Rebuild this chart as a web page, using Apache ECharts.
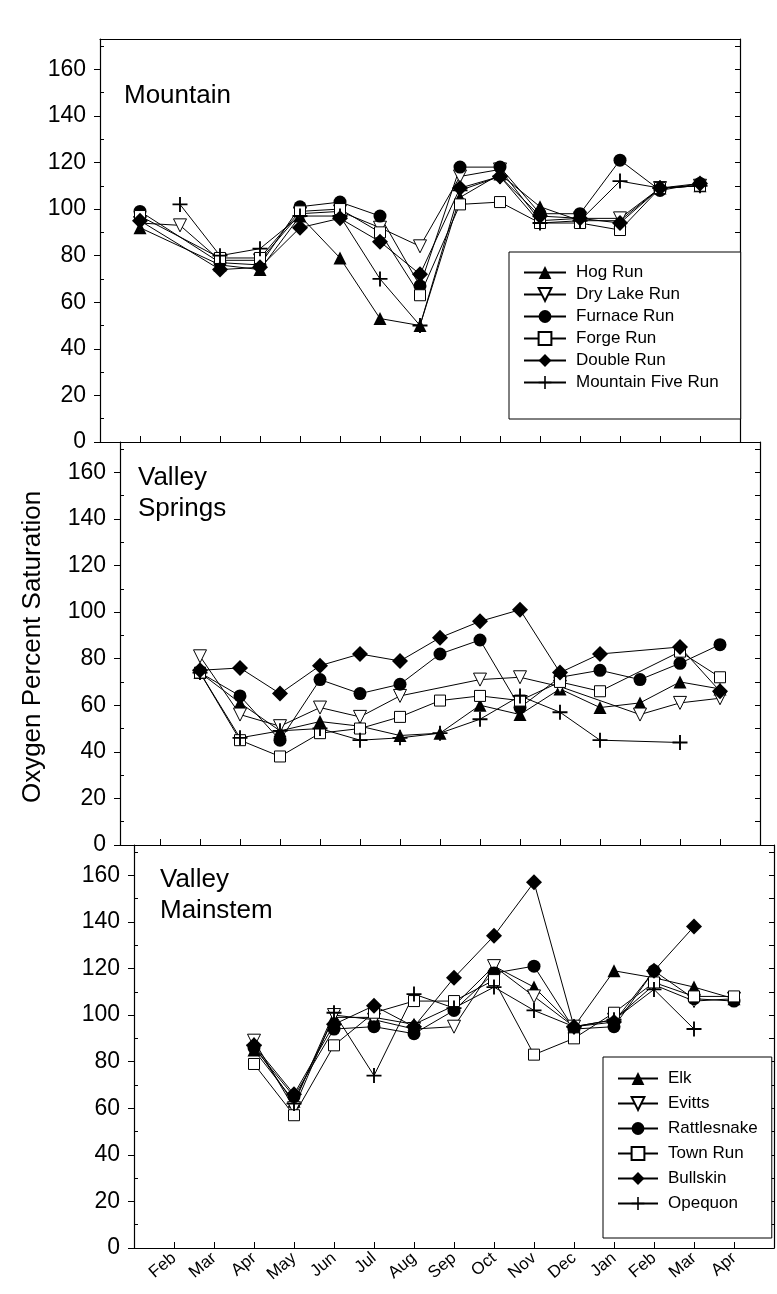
<!DOCTYPE html>
<html>
<head>
<meta charset="utf-8">
<script src="https://cdn.jsdelivr.net/npm/echarts@6/dist/echarts.min.js"></script>
<style>
html,body{margin:0;padding:0;background:#fff;}
#chart{width:777px;height:1294px;}
</style>
</head>
<body>
<div id="chart"></div>
<script>
// ---------- data ----------
const months = ['Feb','Mar','Apr','May','Jun','Jul','Aug','Sep','Oct','Nov','Dec','Jan','Feb','Mar','Apr'];
const yTickValues = [0, 20, 40, 60, 80, 100, 120, 140, 160];
const panelTitles = ['Mountain', 'Valley\nSprings', 'Valley\nMainstem'];
const yAxisTitle = 'Oxygen Percent Saturation';

// Mountain panel
const mountainNames = ['Hog Run', 'Dry Lake Run', 'Furnace Run', 'Forge Run', 'Double Run', 'Mountain Five Run'];
const hogRun          = [92, null, 76, 74, 97, 79, 53, 50, 105, 115, 101, 95, 95, 109, 110];
const dryLakeRun      = [94, 93, 78, 78, 98, 99, 92, 84, 114, 117, 95, 96, 96, 109, 110];
const furnaceRun      = [99, null, 77, 76, 101, 103, 97, 67, 118, 118, 98, 98, 121, 108, 111];
const forgeRun        = [97, null, 79, 79, 99, 100, 90, 63, 102, 103, 94, 94, 91, 109, 110];
const doubleRun       = [95, null, 74, 75, 92, 96, 86, 72, 109, 114, 97, 96, 94, 109, 111];
const mountainFiveRun = [null, 102, 80, 83, 97, 97, 70, 50, 108, 114, 94, 95, 112, 109, 110];

// Valley Springs panel (no legend in the figure)
const springsTriangle = [null, 74, 61, 49, 53, 51, 47, 48, 60, 56, 67, 59, 61, 70, 67];
const springsDownTri  = [null, 81, 56, 51, 59, 55, 64, null, 71, 72, 68, null, 56, 61, 63];
const springsCircle   = [null, 74, 64, 45, 71, 65, 69, 82, 88, 59, 72, 75, 71, 78, 86];
const springsSquare   = [null, 74, 45, 38, 48, 50, 55, 62, 64, 62, 70, 66, null, 83, 72];
const springsDiamond  = [null, 75, 76, 65, 77, 82, 79, 89, 96, 101, 74, 82, null, 85, 66];
const springsPlus     = [null, 74, 46, 49, 50, 45, 46, 48, 54, 64, 57, 45, null, 44, null];

// Valley Mainstem panel
const mainstemNames = ['Elk', 'Evitts', 'Rattlesnake', 'Town Run', 'Bullskin', 'Opequon'];
const elk         = [null, null, 85, 63, 99, 99, 96, 104, 121, 112, 95, 119, 116, 112, 107];
const evitts      = [null, null, 89, 60, 100, 98, 94, 95, 121, 108, 95, 98, 113, 106, 107];
const rattlesnake = [null, null, 86, 65, 94, 95, 92, 102, 118, 121, 94, 95, 119, 107, 106];
const townRun     = [null, null, 79, 57, 87, 101, 106, 106, 115, 83, 90, 101, 114, 108, 108];
const bullskin    = [null, null, 87, 66, 96, 104, 95, 116, 134, 157, 95, 97, 119, 138, null];
const opequon     = [null, null, 87, 62, 101, 74, 109, 103, 112, 102, 95, 98, 111, 94, null];

// ---------- styling ----------
const FONT = 'Liberation Sans, Arial, Helvetica, sans-serif';
const PLUS = 'path://M10.5,0 L13.5,0 L13.5,10.5 L24,10.5 L24,13.5 L13.5,13.5 L13.5,24 L10.5,24 L10.5,13.5 L0,13.5 L0,10.5 L10.5,10.5 Z';
const markerStyles = {
  tri:     { symbol: 'triangle', symbolSize: 13, symbolRotate: 0,   fill: '#000', hollow: false },
  down:    { symbol: 'triangle', symbolSize: 13, symbolRotate: 180, fill: '#fff', hollow: true },
  circle:  { symbol: 'circle',   symbolSize: 13, symbolRotate: 0,   fill: '#000', hollow: false },
  square:  { symbol: 'rect',     symbolSize: 11, symbolRotate: 0,   fill: '#fff', hollow: true },
  diamond: { symbol: 'diamond',  symbolSize: 16, symbolRotate: 0,   fill: '#000', hollow: false },
  plus:    { symbol: PLUS,       symbolSize: 15, symbolRotate: 0,   fill: '#000', hollow: false }
};

const panels = [
  { left: 100, top: 39,  width: 640, height: 403 },
  { left: 120, top: 442, width: 640, height: 403 },
  { left: 134, top: 845, width: 640, height: 403 }
];
const Y_MAX = 173;

function mkSeries(name, values, shape, g) {
  const m = markerStyles[shape];
  const pts = [];
  values.forEach((v, i) => { if (v !== null) pts.push([i + 1, v]); });
  return {
    type: 'line', name: name, data: pts,
    xAxisIndex: g * 2, yAxisIndex: g * 3,
    symbol: m.symbol, symbolSize: m.symbolSize, symbolRotate: m.symbolRotate,
    showAllSymbol: true, clip: false, silent: true,
    lineStyle: { color: '#000', width: 1 },
    itemStyle: m.hollow ? { color: m.fill, borderColor: '#000', borderWidth: 1, opacity: 1 }
                        : { color: '#000', borderWidth: 0, opacity: 1 },
    emphasis: { disabled: true },
    animation: false
  };
}

const grids = [], xAxes = [], yAxes = [];
const minorVals = [], allTens = [];
for (let v = 10; v <= 170; v += 20) minorVals.push(v);
for (let v = 0; v <= 170; v += 10) allTens.push(v);

panels.forEach((p, g) => {
  grids.push({ left: p.left, top: p.top, width: p.width, height: p.height, containLabel: false });
  const isBottom = g === panels.length - 1;
  xAxes.push({
    type: 'value', gridIndex: g, position: 'bottom', min: 0, max: 16, interval: 1,
    axisLine: { show: true, onZero: false, lineStyle: { color: '#000', width: 1.2 } },
    axisTick: { show: true, inside: true, length: 6, lineStyle: { color: '#000', width: 1 } },
    axisLabel: {
      show: isBottom, rotate: 40, margin: 8, fontSize: 17, color: '#000', fontFamily: FONT,
      formatter: (v) => (v >= 1 && v <= months.length) ? months[v - 1] : ''
    },
    splitLine: { show: false }
  });
  xAxes.push({
    type: 'value', gridIndex: g, position: 'top', min: 0, max: 16,
    axisLine: { show: true, onZero: false, lineStyle: { color: '#000', width: 1.2 } },
    axisTick: { show: false }, axisLabel: { show: false }, splitLine: { show: false }
  });
  yAxes.push({
    type: 'value', gridIndex: g, position: 'left', min: 0, max: Y_MAX,
    axisLine: { show: true, onZero: false, lineStyle: { color: '#000', width: 1.2 } },
    axisTick: { show: true, inside: false, length: 6, customValues: yTickValues, lineStyle: { color: '#000', width: 1 } },
    axisLabel: { show: true, customValues: yTickValues, margin: 14, fontSize: 23, color: '#000', fontFamily: FONT },
    splitLine: { show: false }
  });
  yAxes.push({
    type: 'value', gridIndex: g, position: 'left', min: 0, max: Y_MAX,
    axisLine: { show: false },
    axisTick: { show: true, inside: true, length: 4, customValues: minorVals, lineStyle: { color: '#000', width: 1 } },
    axisLabel: { show: false }, splitLine: { show: false }
  });
  yAxes.push({
    type: 'value', gridIndex: g, position: 'right', min: 0, max: Y_MAX,
    axisLine: { show: true, onZero: false, lineStyle: { color: '#000', width: 1.2 } },
    axisTick: { show: true, inside: true, length: 5, customValues: allTens, lineStyle: { color: '#000', width: 1 } },
    axisLabel: { show: false }, splitLine: { show: false }
  });
});

const series = [
  mkSeries('Hog Run', hogRun, 'tri', 0),
  mkSeries('Dry Lake Run', dryLakeRun, 'down', 0),
  mkSeries('Furnace Run', furnaceRun, 'circle', 0),
  mkSeries('Forge Run', forgeRun, 'square', 0),
  mkSeries('Double Run', doubleRun, 'diamond', 0),
  mkSeries('Mountain Five Run', mountainFiveRun, 'plus', 0),

  mkSeries('Valley Springs A', springsTriangle, 'tri', 1),
  mkSeries('Valley Springs B', springsDownTri, 'down', 1),
  mkSeries('Valley Springs C', springsCircle, 'circle', 1),
  mkSeries('Valley Springs D', springsSquare, 'square', 1),
  mkSeries('Valley Springs E', springsDiamond, 'diamond', 1),
  mkSeries('Valley Springs F', springsPlus, 'plus', 1),

  mkSeries('Elk', elk, 'tri', 2),
  mkSeries('Evitts', evitts, 'down', 2),
  mkSeries('Rattlesnake', rattlesnake, 'circle', 2),
  mkSeries('Town Run', townRun, 'square', 2),
  mkSeries('Bullskin', bullskin, 'diamond', 2),
  mkSeries('Opequon', opequon, 'plus', 2)
];

const legendCommon = {
  orient: 'vertical', backgroundColor: '#fff', borderColor: '#000', borderWidth: 1, borderRadius: 0,
  itemHeight: 16, selectedMode: false,
  textStyle: { fontSize: 17, lineHeight: 16, color: '#000', fontFamily: FONT, padding: [0, 0, 0, 5] }
};

const option = {
  animation: false,
  backgroundColor: '#fff',
  grid: grids, xAxis: xAxes, yAxis: yAxes, series: series,
  legend: [
    Object.assign({}, legendCommon, {
      data: mountainNames, left: 509, top: 252, itemWidth: 42, itemGap: 5,
      padding: [12, 22, 28, 14]
    }),
    Object.assign({}, legendCommon, {
      data: mainstemNames, left: 603, top: 1057, itemWidth: 40, itemGap: 8,
      padding: [13, 14, 26, 14]
    })
  ],
  graphic: [
    { type: 'text', x: 124, y: 80, style: { text: panelTitles[0], font: '26px ' + FONT, fill: '#000', lineHeight: 31, verticalAlign: 'top' } },
    { type: 'text', x: 138, y: 462, style: { text: panelTitles[1], font: '26px ' + FONT, fill: '#000', lineHeight: 31, verticalAlign: 'top' } },
    { type: 'text', x: 160, y: 864, style: { text: panelTitles[2], font: '26px ' + FONT, fill: '#000', lineHeight: 31, verticalAlign: 'top' } },
    { type: 'text', x: 33, y: 647, rotation: Math.PI / 2,
      style: { text: yAxisTitle, font: '26px ' + FONT, fill: '#000', align: 'center', verticalAlign: 'middle' } }
  ]
};

const chart = echarts.init(document.getElementById('chart'), null, { renderer: 'canvas' });
chart.setOption(option);
</script>
</body>
</html>
